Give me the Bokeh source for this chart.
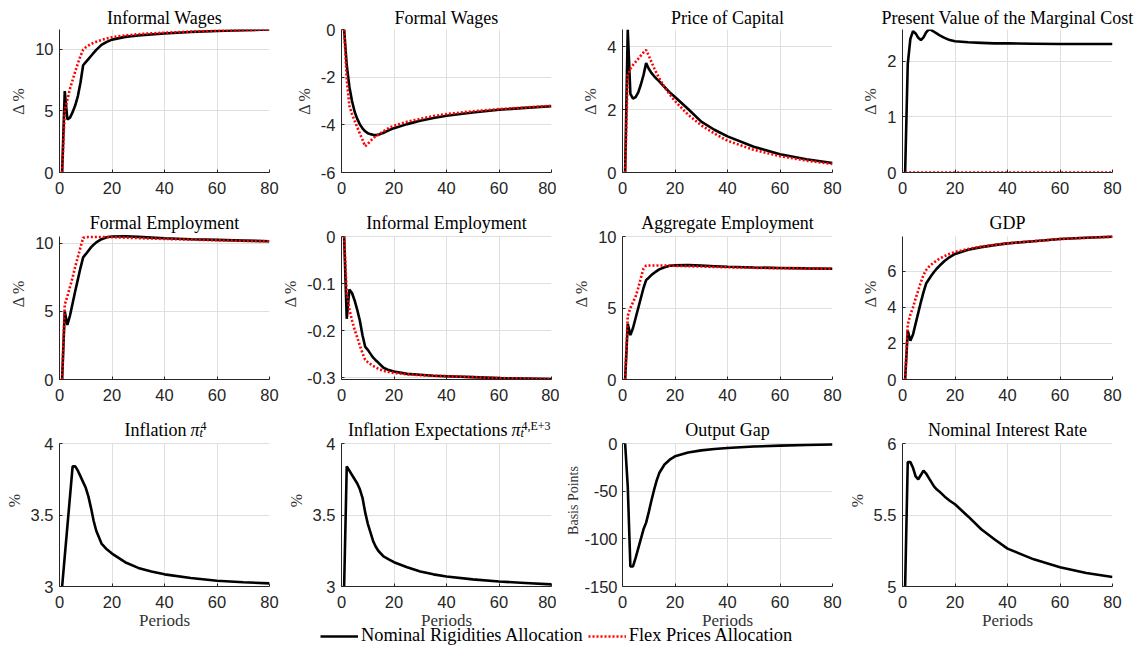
from bokeh.plotting import figure
from bokeh.layouts import gridplot, column
from bokeh.models import (Range1d, FixedTicker, CustomJSTickFormatter, Label,
                          Legend, LegendItem, Grid)
from bokeh.core.properties import value
from bokeh.embed import file_html
from bokeh.resources import INLINE

# ---------------- data ----------------
periods = [1, 2, 3, 4, 5, 6, 7, 8, 9, 10, 11, 12, 13, 14, 16, 18, 20, 25, 30, 35, 40, 50, 60, 70, 80]
x_ticks = [0, 20, 40, 60, 80]

informal_wages_nr = [0, 6.6, 4.3, 4.45, 4.9, 5.45, 6.2, 7.3, 8.7, 8.95, 9.2, 9.45, 9.7, 9.95, 10.35, 10.6, 10.78, 11.0, 11.12, 11.2, 11.28, 11.4, 11.48, 11.54, 11.6]
informal_wages_flex = [0, 5.0, 5.9, 6.8, 7.5, 8.2, 8.85, 9.45, 9.95, 10.15, 10.3, 10.42, 10.52, 10.6, 10.75, 10.87, 10.97, 11.12, 11.22, 11.29, 11.34, 11.43, 11.5, 11.55, 11.6]

formal_wages_nr = [0, -1.5, -2.4, -3.0, -3.45, -3.75, -3.98, -4.15, -4.27, -4.35, -4.39, -4.42, -4.43, -4.42, -4.33, -4.23, -4.14, -3.97, -3.83, -3.71, -3.62, -3.48, -3.37, -3.29, -3.22]
formal_wages_flex = [0, -2.1, -3.2, -3.55, -3.83, -4.1, -4.37, -4.63, -4.9, -4.8, -4.68, -4.57, -4.48, -4.41, -4.27, -4.14, -4.04, -3.87, -3.75, -3.63, -3.55, -3.43, -3.34, -3.27, -3.2]

price_capital_nr = [0, 4.55, 2.5, 2.35, 2.4, 2.55, 2.8, 3.1, 3.48, 3.3, 3.17, 3.07, 2.98, 2.9, 2.72, 2.55, 2.4, 2.02, 1.62, 1.36, 1.15, 0.82, 0.58, 0.42, 0.3]
price_capital_flex = [0, 3.1, 3.3, 3.42, 3.52, 3.62, 3.72, 3.82, 3.9, 3.72, 3.52, 3.33, 3.16, 3.0, 2.72, 2.48, 2.27, 1.84, 1.5, 1.24, 1.01, 0.72, 0.52, 0.38, 0.27]

pv_marginal_cost_nr = [0, 1.95, 2.4, 2.54, 2.5, 2.42, 2.38, 2.43, 2.52, 2.57, 2.56, 2.53, 2.5, 2.47, 2.42, 2.38, 2.36, 2.34, 2.33, 2.32, 2.32, 2.315, 2.31, 2.31, 2.31]
pv_marginal_cost_flex = [0] * 25

formal_emp_nr = [0, 5.0, 4.0, 4.7, 5.6, 6.5, 7.35, 8.2, 8.97, 9.2, 9.45, 9.7, 9.9, 10.07, 10.3, 10.45, 10.5, 10.52, 10.47, 10.42, 10.37, 10.3, 10.25, 10.2, 10.15]
formal_emp_flex = [0, 5.5, 6.1, 6.8, 7.5, 8.3, 9.0, 9.7, 10.4, 10.45, 10.46, 10.46, 10.46, 10.46, 10.46, 10.46, 10.45, 10.42, 10.38, 10.35, 10.32, 10.27, 10.22, 10.18, 10.15]

informal_emp_nr = [0, -0.175, -0.113, -0.12, -0.136, -0.156, -0.179, -0.21, -0.234, -0.241, -0.249, -0.257, -0.263, -0.268, -0.279, -0.284, -0.287, -0.292, -0.294, -0.296, -0.297, -0.299, -0.301, -0.302, -0.303]
informal_emp_flex = [0, -0.12, -0.155, -0.178, -0.198, -0.215, -0.232, -0.248, -0.262, -0.267, -0.271, -0.275, -0.278, -0.281, -0.286, -0.288, -0.29, -0.293, -0.295, -0.296, -0.297, -0.299, -0.301, -0.302, -0.303]

aggregate_emp_nr = [0, 3.9, 3.1, 3.6, 4.3, 5.0, 5.7, 6.4, 6.95, 7.12, 7.3, 7.45, 7.58, 7.7, 7.85, 7.95, 7.98, 8.0, 7.96, 7.92, 7.88, 7.83, 7.8, 7.77, 7.75]
aggregate_emp_flex = [0, 4.45, 5.0, 5.4, 5.8, 6.4, 7.1, 7.75, 7.97, 7.97, 7.97, 7.97, 7.97, 7.97, 7.97, 7.96, 7.95, 7.92, 7.9, 7.87, 7.85, 7.81, 7.78, 7.76, 7.75]

gdp_nr = [0, 2.7, 2.15, 2.5, 3.1, 3.7, 4.3, 4.85, 5.33, 5.55, 5.77, 5.97, 6.15, 6.3, 6.58, 6.8, 6.97, 7.2, 7.35, 7.46, 7.56, 7.68, 7.8, 7.87, 7.93]
gdp_flex = [0, 3.05, 3.6, 4.0, 4.5, 4.95, 5.4, 5.8, 6.08, 6.25, 6.38, 6.5, 6.6, 6.7, 6.85, 6.98, 7.08, 7.25, 7.38, 7.47, 7.56, 7.68, 7.8, 7.87, 7.93]

inflation_nr = [3.0, 3.21, 3.42, 3.63, 3.84, 3.84, 3.81, 3.77, 3.73, 3.69, 3.63, 3.55, 3.46, 3.39, 3.3, 3.26, 3.23, 3.17, 3.13, 3.105, 3.085, 3.06, 3.04, 3.03, 3.022]
infl_expect_nr = [3.0, 3.84, 3.81, 3.78, 3.75, 3.72, 3.68, 3.62, 3.52, 3.44, 3.38, 3.32, 3.28, 3.25, 3.21, 3.19, 3.17, 3.135, 3.105, 3.085, 3.07, 3.05, 3.035, 3.025, 3.015]
output_gap_nr = [0, -45, -129, -129, -120, -110, -100, -90, -83, -72, -60, -49, -39, -31, -22, -17, -13.5, -9.5, -7.2, -5.8, -4.8, -3.2, -2.2, -1.5, -1.0]
interest_rate_nr = [5.0, 5.87, 5.87, 5.83, 5.77, 5.75, 5.78, 5.81, 5.79, 5.76, 5.73, 5.7, 5.68, 5.665, 5.63, 5.6, 5.575, 5.49, 5.4, 5.33, 5.265, 5.19, 5.135, 5.095, 5.066]

titles = ["Informal Wages", "Formal Wages", "Price of Capital", "Present Value of the Marginal Cost",
          "Formal Employment", "Informal Employment", "Aggregate Employment", "GDP",
          "Inflation", "Inflation Expectations", "Output Gap", "Nominal Interest Rate"]
y_labels = ["\u0394 %"] * 8 + ["%", "%", "Basis Points", "%"]
y_ranges = [(0, 11.6), (-6, 0), (0, 4.55), (0, 2.57),
            (0, 10.5), (-0.304, 0), (0, 10), (0, 7.94),
            (3, 4), (3, 4), (-150, 0), (5, 6)]
y_ticks = [[0, 5, 10], [-6, -4, -2, 0], [0, 2, 4], [0, 1, 2],
           [0, 5, 10], [-0.3, -0.2, -0.1, 0], [0, 5, 10], [0, 2, 4, 6],
           [3, 3.5, 4], [3, 3.5, 4], [-150, -100, -50, 0], [5, 5.5, 6]]
series_nr = [informal_wages_nr, formal_wages_nr, price_capital_nr, pv_marginal_cost_nr,
             formal_emp_nr, informal_emp_nr, aggregate_emp_nr, gdp_nr,
             inflation_nr, infl_expect_nr, output_gap_nr, interest_rate_nr]
series_flex = [informal_wages_flex, formal_wages_flex, price_capital_flex, pv_marginal_cost_flex,
               formal_emp_flex, informal_emp_flex, aggregate_emp_flex, gdp_flex,
               None, None, None, None]
# math part of titles: (symbol, superscript, subscript)
title_math = {8: ("\u03c0", "4", "t"), 9: ("\u03c0", "4,E+3", "t")}
legend_labels = ["Nominal Rigidities Allocation", "Flex Prices Allocation"]

# ---------------- style ----------------
SERIF = "Liberation Serif"
SANS = "Liberation Sans"
DARK = "#262626"
FW, FH = 210, 143
TOP = 29
LW = 2.6
RED_DASH = "2 2"
HAS_CROSS = "cross_bounds" in Grid.properties()
TB = FH + 14  # title baseline (screen units, from frame bottom)
BORDER_L = [59, 59, 63, 59]
BORDER_R = [10, 8, 11, 38]

fmt_code = "return String(tick);"


def lab(p, x, y, text, size, align, style="normal"):
    p.add_layout(Label(x=x, y=y, x_units="screen", y_units="screen", text=text,
                       text_font=SERIF, text_font_size=size, text_font_style=style,
                       text_color="black", text_align=align, text_baseline="alphabetic"))


panels = []
for i in range(12):
    row, col = i // 4, i % 4
    lo, hi = y_ranges[i]
    # top row keeps regular titles (one of them is wider than its frame);
    # lower rows draw their titles inside an upward-extended frame
    ext = (row > 0)
    if ext:
        hi_plot = hi + (hi - lo) * TOP / FH
        fh = FH + TOP
        mbt = 0
    else:
        hi_plot = hi
        fh = FH
        mbt = TOP
    mbb = 50 if row == 2 else 35
    p = figure(frame_width=FW, frame_height=fh,
               x_range=Range1d(0, 80), y_range=Range1d(lo, hi_plot),
               output_backend="svg", toolbar_location=None,
               min_border_left=BORDER_L[col], min_border_right=BORDER_R[col],
               min_border_top=mbt, min_border_bottom=mbb)
    p.outline_line_color = None
    p.background_fill_color = "white"
    p.border_fill_color = "white"
    for ax in (p.xaxis[0], p.yaxis[0]):
        ax.axis_line_color = DARK
        ax.axis_line_width = 1
        ax.major_tick_in = 3
        ax.major_tick_out = 0
        ax.minor_tick_in = 0
        ax.minor_tick_out = 0
        ax.major_tick_line_color = DARK
        ax.major_label_text_font = SANS
        ax.major_label_text_font_size = "16.5px"
        ax.major_label_text_color = DARK
        ax.formatter = CustomJSTickFormatter(code=fmt_code)
        ax.axis_label_text_font = SERIF
        ax.axis_label_text_font_style = "normal"
        ax.axis_label_text_color = "#333333"
    p.xaxis.ticker = FixedTicker(ticks=x_ticks)
    p.yaxis.ticker = FixedTicker(ticks=y_ticks[i])
    p.xaxis.major_label_standoff = 9
    p.yaxis.axis_label = y_labels[i]
    if y_labels[i] == "Basis Points":
        p.yaxis.major_label_standoff = 5
        p.yaxis.axis_label_text_font_size = "14px"
        p.yaxis.axis_label_standoff = 0
    else:
        p.yaxis.major_label_standoff = 6
        p.yaxis.axis_label_text_font_size = "16px"
        p.yaxis.axis_label_standoff = 5
    if row == 2:
        p.xaxis.axis_label = "Periods"
        p.xaxis.axis_label_text_font_size = "17px"
        p.xaxis.axis_label_standoff = 0
    p.grid.grid_line_color = "#dfdfdf"
    p.grid.grid_line_width = 1
    if ext:
        p.yaxis.bounds = (lo, hi)
        if HAS_CROSS:
            p.xgrid.cross_bounds = (lo, hi)
        else:
            p.xgrid.visible = False
            p.segment(x0=x_ticks, x1=x_ticks, y0=[lo] * len(x_ticks), y1=[hi] * len(x_ticks),
                      line_color="#dfdfdf", line_width=1)

    p.line(periods, series_nr[i], line_color="black", line_width=LW)
    if series_flex[i] is not None:
        p.line(periods, series_flex[i], line_color="red", line_width=LW, line_dash=RED_DASH)

    if ext:
        if i in title_math:
            sym, sup, sub = title_math[i]
            xr = 127 if i == 8 else 166  # right edge of the word part
            lab(p, xr, TB, titles[i], "18px", "right")
            lab(p, xr + 4, TB, sym, "18px", "left", "italic")
            lab(p, xr + 14, TB + 4, sup, "12px", "left")
            lab(p, xr + 13, TB - 3, sub, "12px", "left", "italic")
        else:
            lab(p, FW / 2, TB, titles[i], "18px", "center")
    else:
        p.title.text = titles[i]
        p.title.text_font = SERIF
        p.title.text_font_size = "18px"
        p.title.text_font_style = "normal"
        p.title.text_color = "black"
        p.title.align = "center"
        p.title.standoff = 4
    panels.append(p)

grid = gridplot([panels[0:4], panels[4:8], panels[8:12]], toolbar_location=None)

# ---------------- legend strip ----------------
lf = figure(width=1120, height=20, x_range=Range1d(0, 1), y_range=Range1d(0, 1),
            output_backend="svg", toolbar_location=None,
            min_border_left=0, min_border_right=0, min_border_top=0, min_border_bottom=0)
lf.axis.visible = False
lf.grid.visible = False
lf.outline_line_color = None
lf.background_fill_alpha = 0
lf.border_fill_alpha = 0
lf.styles = {"margin-top": "-10px"}
r1 = lf.line([-2, -1], [-2, -2], line_color="black", line_width=LW)
r2 = lf.line([-2, -1], [-2, -2], line_color="red", line_width=LW, line_dash=RED_DASH)
legend = Legend(items=[LegendItem(label=value(legend_labels[0]), renderers=[r1]),
                       LegendItem(label=value(legend_labels[1]), renderers=[r2])],
                orientation="horizontal", location=(320, 0),
                glyph_width=38, glyph_height=20, label_height=20, label_standoff=3,
                spacing=5, padding=0, margin=0,
                border_line_color=None, background_fill_alpha=0,
                label_text_font=SERIF, label_text_font_size="18.4px", label_text_color="black")
lf.add_layout(legend)

layout = column(grid, lf)
open("out.html", "w").write(file_html(layout, INLINE))
